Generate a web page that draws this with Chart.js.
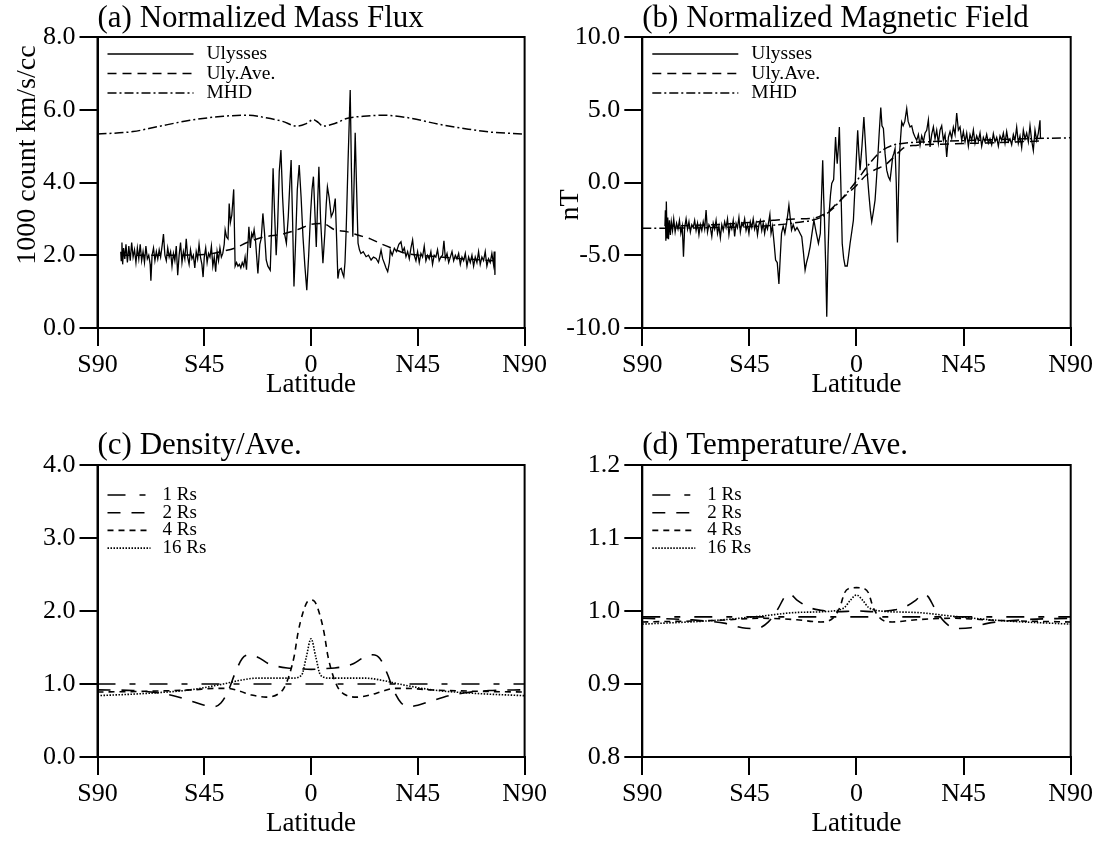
<!DOCTYPE html>
<html>
<head>
<meta charset="utf-8">
<script src="https://cdn.jsdelivr.net/npm/chart.js@4.4.1/dist/chart.umd.min.js"></script>
<style>
  body { margin: 0; background: #fff; }
  #wrap { position: relative; width: 1102px; height: 843px; background: #fff; }
  canvas { position: absolute; }
</style>
</head>
<body>
<div id="wrap">
  <canvas id="panelA" width="551" height="420" style="left:0;top:0"></canvas>
  <canvas id="panelB" width="551" height="420" style="left:551px;top:0"></canvas>
  <canvas id="panelC" width="551" height="423" style="left:0;top:420px"></canvas>
  <canvas id="panelD" width="551" height="423" style="left:551px;top:420px"></canvas>
</div>
<script>
const SERIF = '"Liberation Serif", "DejaVu Serif", serif';

// latitude ticks
const latTicks = [-90, -45, 0, 45, 90];

// (a) mass flux, Ulysses (lat, value)
const fluxUlyLat = [-80.2,-80,-79.7,-79.4,-79,-78.5,-78,-77.4,-76.8,-76.2,-75.6,-75,-74.4,-73.8,-73.2,-72.6,-72,-71.4,-70.8,-70.2,-69.6,-69,-68.4,-67.8,-67.5,-67,-66.4,-65.8,-65.2,-64.6,-64,-63.4,-62.7,-62.2,-61.6,-61,-60.4,-59.8,-59.2,-58.6,-58,-57.4,-56.8,-56.2,-55.6,-55,-54.4,-53.8,-53.2,-52.6,-52,-51.4,-50.8,-50.2,-49.6,-49,-48.4,-47.8,-47.2,-46.6,-46,-45.5,-45,-44.4,-43.8,-43.2,-42.6,-42,-41.4,-40.8,-40.2,-39.6,-39,-38.4,-37.8,-37.2,-36.6,-36.2,-35.6,-35,-34.5,-34,-33.4,-32.6,-32,-31.4,-30.8,-30.2,-29.6,-29,-28.4,-27.8,-27.2,-26.6,-26.2,-25.6,-25,-24.5,-24,-23.4,-22.4,-21.6,-21,-20.3,-19.6,-18.9,-18.2,-17.2,-16.6,-16,-15.4,-14.7,-14.1,-13.4,-12.7,-12,-11.2,-10.4,-9.6,-9,-8.4,-7.8,-7.2,-6.6,-5.8,-5,-4.2,-3.4,-2.6,-1.8,-1,-0.2,0.4,1,1.6,2.2,2.8,3.3,4,5,5.8,6.4,6.9,7.6,8.5,9.4,10.2,10.8,11.3,11.9,12.7,13.3,13.8,14.3,14.8,15.6,16.5,17,17.6,18.1,18.6,19.2,19.8,20.4,21,22,23.2,24.2,25.3,26.3,27.4,28.4,29.5,30.2,30.9,31.6,32.3,33,33.4,34.2,35.1,36,37,37.9,38.6,39.3,40,40.7,41.4,42.1,42.8,43.5,44.2,44.9,45.6,46.3,47,47.7,48.4,49.1,49.8,50.5,51.2,51.9,52.6,53.3,54,54.7,55.4,56,56.6,57.3,58,58.7,59.4,60.1,60.8,61.5,62.2,62.9,63.6,64.3,65,65.7,66.4,67.1,67.8,68.5,69.2,69.9,70.6,71.3,72,72.7,73.4,74.1,74.8,75.5,76.2,76.9,77.2,77.5];
const fluxUlyVal = [2.1,1.85,2.35,1.75,2.2,1.9,2.3,1.8,2.25,1.85,2.35,1.95,2.15,1.8,2.2,1.9,2.3,1.85,2.1,1.8,2.25,1.9,2.0,1.75,1.3,2.0,2.2,1.85,2.1,1.9,2.15,1.95,2.3,2.58,2.0,1.85,2.2,1.95,2.1,1.7,2.05,1.85,2.25,1.45,2.0,2.35,1.8,2.1,1.9,2.45,1.95,1.75,2.15,1.9,2.0,1.65,2.1,1.9,2.3,1.95,1.75,1.4,1.95,2.2,1.8,2.05,1.95,2.25,1.7,1.95,1.55,2.1,1.85,2.2,1.95,2.05,2.3,2.7,2.5,2.45,3.42,2.9,3.1,3.81,1.7,1.8,1.7,1.75,1.65,1.8,1.7,1.95,1.6,2.3,2.78,2.2,2.6,2.5,2.7,2.4,1.5,2.3,2.46,3.15,2.6,1.87,1.7,1.59,2.8,4.39,3.2,2.0,2.8,4.3,4.89,3.6,2.6,2.33,3.06,3.9,4.62,3.0,1.14,2.2,3.8,4.48,3.6,2.5,1.7,1.04,2.0,3.15,3.8,4.16,3.2,2.23,3.5,4.43,3.0,1.78,2.6,3.4,3.88,3.6,3.06,3.2,3.56,2.4,1.36,1.6,1.64,1.5,1.41,1.8,2.69,4.6,6.54,4.4,2.51,3.9,5.37,3.8,2.33,2.15,2.05,2.1,1.96,2.0,1.87,1.95,1.91,1.8,2.14,1.9,1.78,1.65,1.55,1.8,2.14,2.0,2.19,2.1,2.3,2.37,2.1,2.2,1.96,2.1,1.9,2.2,2.42,2.0,1.85,2.1,1.8,2.05,1.95,2.25,1.85,2.0,1.9,2.1,1.75,2.0,1.95,2.15,1.85,1.95,2.0,2.4,1.9,2.05,1.8,1.95,2.1,1.85,2.0,1.9,2.05,1.75,1.95,1.85,2.05,1.7,1.95,1.8,2.0,1.7,1.95,1.8,2.1,1.75,1.95,1.85,2.1,1.7,1.9,1.8,2.05,1.75,2.1,1.46];

// (a) Ulysses running average
const fluxAveLat = [-80,-60,-45,-38,-32,-27,-20,-12,-5,0,5,10,15,20,25,30,35,40,50,60,77];
const fluxAveVal = [2.0,2.0,2.02,2.1,2.2,2.35,2.5,2.58,2.72,2.85,2.87,2.7,2.65,2.55,2.45,2.3,2.17,2.05,1.98,1.92,1.85];

// (a) MHD model
const fluxMhdLat = [-90,-75,-65,-51,-37,-27,-19,-12,-6,-2,1,3,5,10,15,22,30,40,54,65,75,90];
const fluxMhdVal = [5.33,5.4,5.53,5.71,5.82,5.85,5.78,5.68,5.55,5.62,5.73,5.65,5.55,5.62,5.76,5.82,5.85,5.79,5.6,5.48,5.39,5.33];

// (b) magnetic field, Ulysses
const bUlyLat = [-80.5,-80.3,-80.1,-79.9,-79.6,-79.3,-79,-78.6,-78.2,-77.8,-77.3,-76.8,-76.2,-75.6,-75,-74.4,-73.8,-73.2,-72.7,-72.2,-71.6,-71,-70.4,-69.8,-69.2,-68.6,-68,-67.4,-66.8,-66.2,-65.6,-65,-64.4,-63.8,-63.2,-62.6,-62,-61.4,-60.8,-60.2,-59.6,-59,-58.4,-57.8,-57.2,-56.6,-56,-55.4,-54.8,-54.2,-53.6,-53,-52.4,-51.8,-51.2,-50.6,-50,-49.4,-48.8,-48.2,-47.6,-47,-46.4,-45.8,-45.2,-44.6,-44,-43.4,-42.8,-42.2,-41.6,-41,-40.4,-39.8,-39.2,-38.6,-38,-37.4,-36.8,-36.4,-35.9,-35.3,-34.6,-34,-33.3,-32.6,-32,-31.5,-30.8,-30.1,-29.2,-28.4,-27.8,-27.3,-26.6,-25.8,-25,-24.4,-23.7,-23,-22.3,-21.6,-21,-20.2,-19.5,-18.7,-17.9,-17,-16,-15.2,-14.6,-14.2,-13.8,-13.5,-12.9,-12.5,-12,-11.4,-10.9,-10.4,-9.6,-8.8,-8.4,-8.1,-7.6,-7.2,-6.6,-6,-5.4,-4.8,-3.9,-3.3,-2.7,-2,-1.3,-0.4,0.5,1,1.5,2.3,3.1,3.7,4.3,5.2,5.8,6.4,7.1,7.8,8.3,8.8,9.5,10.2,10.7,11.3,12,12.7,13.4,14.1,14.7,15.2,15.7,16.2,16.7,17.2,17.6,18,18.5,19,19.6,20.3,21.1,21.7,22.5,23.2,23.9,24.6,25.3,26,26.7,27.4,28.1,28.8,29.5,30.2,30.9,31.6,32.3,33,33.7,34.4,35.1,35.8,36.5,37.2,37.9,38.6,39.3,40,40.7,41.4,42.1,42.8,43.5,44.2,44.9,45.6,46.3,47,47.7,48.4,49.1,49.8,50.5,51.2,51.9,52.6,53.3,54,54.7,55.4,56.1,56.8,57.5,58.2,58.9,59.6,60.3,61,61.7,62.4,63.1,63.8,64.5,65.2,65.9,66.6,67.3,68,68.7,69.4,70.1,70.8,71.5,72.2,72.9,73.6,74.3,75,75.7,76.4,77.1,77.3];
const bUlyVal = [-3.0,-1.9,-4.0,-1.3,-3.8,-2.4,-3.9,-2.6,-3.6,-2.7,-3.3,-2.5,-3.4,-2.8,-3.2,-2.6,-3.5,-3.0,-5.1,-3.1,-2.5,-3.2,-2.7,-3.4,-2.9,-3.1,-2.6,-3.3,-2.8,-3.6,-2.9,-3.3,-2.7,-3.2,-1.9,-3.4,-2.9,-3.1,-3.7,-2.8,-3.2,-2.6,-3.5,-3.0,-3.8,-2.9,-3.3,-2.7,-3.1,-2.5,-3.6,-2.9,-3.2,-2.6,-3.7,-2.8,-3.1,-2.4,-3.4,-2.8,-3.0,-2.5,-3.3,-2.9,-3.5,-2.7,-3.1,-2.5,-3.2,-2.8,-3.6,-2.9,-2.6,-3.3,-2.8,-3.5,-2.9,-3.2,-2.6,-2.2,-3.5,-3.0,-4.2,-5.33,-5.5,-6.98,-5.0,-3.5,-3.0,-3.5,-2.6,-1.56,-2.5,-3.27,-2.9,-3.3,-3.1,-3.27,-3.5,-3.73,-4.8,-6.02,-5.5,-5.0,-4.42,-3.5,-2.59,-3.4,-4.19,-3.5,-0.5,1.53,-1.0,-2.36,-6.0,-9.22,-5.0,-1.9,-0.8,-0.07,0.2,3.13,2.0,1.3,2.5,3.82,0.0,-4.19,-5.2,-5.74,-5.74,-5.0,-4.19,-3.4,-2.59,0.5,3.59,2.0,0.85,2.5,4.5,2.8,1.08,-0.8,-1.9,-2.7,-2.0,-1.21,0.0,1.3,3.3,5.15,3.9,3.71,2.0,0.85,0.4,0.16,1.0,1.76,2.0,2.33,0.0,-4.12,-1.0,1.8,3.0,4.16,3.9,4.2,5.08,4.2,3.82,3.9,3.4,3.13,2.9,3.3,2.56,3.2,2.8,3.4,3.59,4.3,2.45,3.3,3.82,3.0,3.6,2.7,3.59,3.9,2.9,3.3,1.76,3.1,3.5,3.05,3.8,3.3,4.78,3.6,3.82,2.9,3.5,2.8,3.4,2.5,3.3,2.9,3.6,2.7,3.2,2.85,3.4,2.5,3.1,2.8,3.3,2.7,3.0,2.6,3.35,2.8,3.1,2.5,3.2,2.9,3.4,2.7,3.5,2.8,3.0,2.6,3.3,2.9,3.8,2.7,3.2,2.4,3.6,3.0,3.4,2.8,3.9,2.9,2.2,3.6,2.9,3.4,4.28,3.0];

// (b) Ulysses running average
const bAveLat = [-80,-60,-45,-35,-25,-18,-12,-8,-4,0,4,8,12,16,20,25,40,60,77];
const bAveVal = [-3.0,-2.9,-2.75,-2.6,-2.5,-2.45,-2.0,-1.4,-0.8,-0.2,0.5,0.9,1.2,1.8,2.4,2.55,2.65,2.75,2.85];

// (b) MHD model
const bMhdLat = [-90,-60,-40,-25,-15,-10,-5,0,5,10,15,20,30,50,70,90];
const bMhdVal = [-3.15,-3.1,-3.0,-2.75,-2.4,-1.8,-0.9,0.1,1.2,2.1,2.55,2.7,2.8,2.9,3.0,3.07];

// (c) density / average
const dens1Lat = [-90,-45,0,45,90];
const dens1Val = [1.0,1.0,1.0,1.0,1.0];
const dens2Lat = [-90,-75,-65,-58,-50,-45,-41,-38,-35,-32,-29,-26,-22,-18,-14,-10,-5,0,5,10,14,18,22,26,29,32,35,38,41,45,50,58,65,75,90];
const dens2Val = [0.92,0.91,0.88,0.84,0.76,0.71,0.69,0.74,0.9,1.15,1.35,1.4,1.36,1.28,1.24,1.22,1.21,1.2,1.21,1.22,1.24,1.28,1.36,1.4,1.35,1.15,0.9,0.74,0.69,0.71,0.76,0.84,0.88,0.91,0.92];
const dens4Lat = [-90,-70,-50,-40,-35,-30,-25,-19,-14,-11.5,-9,-7,-5.5,-3.5,-1.5,0,1.5,3.5,5.5,7,9,11.5,14,19,25,30,35,40,50,70,90];
const dens4Val = [0.89,0.9,0.92,0.94,0.94,0.9,0.85,0.82,0.86,0.94,1.14,1.4,1.7,1.97,2.13,2.15,2.13,1.97,1.7,1.4,1.14,0.94,0.86,0.82,0.85,0.9,0.94,0.94,0.92,0.9,0.89];
const dens16Lat = [-90,-70,-51,-37,-30,-23,-15,-8,-4,-2,0,2,4,8,15,23,30,37,51,70,90];
const dens16Val = [0.84,0.87,0.92,1.0,1.05,1.08,1.08,1.08,1.12,1.37,1.62,1.37,1.12,1.08,1.08,1.08,1.05,1.0,0.92,0.87,0.84];

// (d) temperature / average
const temp1Lat = [-90,-45,0,45,90];
const temp1Val = [0.992,0.992,0.992,0.992,0.992];
const temp2Lat = [-90,-70,-55,-48,-42,-37,-33,-30,-28,-25,-20,-15,-8,0,8,15,20,25,28,30,33,37,42,48,55,70,90];
const temp2Val = [0.99,0.988,0.983,0.977,0.976,0.985,1.003,1.02,1.023,1.015,1.005,1.001,0.999,1.0,0.999,1.001,1.005,1.015,1.023,1.02,1.003,0.985,0.976,0.977,0.983,0.988,0.99];
const temp4Lat = [-90,-60,-40,-25,-15,-10,-7,-5,-3,0,3,5,7,10,15,25,40,60,90];
const temp4Val = [0.985,0.987,0.99,0.988,0.985,0.99,1.005,1.025,1.031,1.032,1.031,1.025,1.005,0.99,0.985,0.988,0.99,0.987,0.985];
const temp16Lat = [-90,-60,-40,-25,-10,-5,-2.5,0,2.5,5,10,25,40,60,90];
const temp16Val = [0.982,0.987,0.993,0.998,1.0,1.005,1.015,1.022,1.015,1.005,1.0,0.998,0.993,0.987,0.982];

const pts = (xs, ys) => xs.map((x, i) => ({ x: x, y: ys[i] }));

function latLabel(v) {
  if (v < 0) return 'S' + (-v);
  if (v > 0) return 'N' + v;
  return '0';
}

// box around the plot area
const frame = {
  id: 'frame',
  afterDraw(chart) {
    const { ctx, chartArea: a } = chart;
    ctx.save();
    ctx.strokeStyle = '#000';
    ctx.lineWidth = 2;
    ctx.strokeRect(a.left, a.top, a.right - a.left, a.bottom - a.top);
    ctx.restore();
  }
};

// vertical axis title, placed by hand like the original
const sideTitle = {
  id: 'sideTitle',
  afterDraw(chart, args, opts) {
    if (!opts.text) return;
    const ctx = chart.ctx;
    ctx.save();
    ctx.translate(opts.x, opts.y);
    ctx.rotate(-Math.PI / 2);
    ctx.font = opts.size + 'px ' + SERIF;
    ctx.fillStyle = '#000';
    ctx.textAlign = 'center';
    ctx.textBaseline = 'middle';
    ctx.fillText(opts.text, 0, 0);
    ctx.restore();
  }
};

// legend inside the plot, line sample then label
const lineLegend = {
  id: 'lineLegend',
  afterDatasetsDraw(chart, args, opts) {
    const { ctx, chartArea: a } = chart;
    ctx.save();
    ctx.font = opts.size + 'px ' + SERIF;
    ctx.textBaseline = 'middle';
    ctx.fillStyle = '#000';
    ctx.strokeStyle = '#000';
    chart.data.datasets.forEach((ds, i) => {
      const x = a.left + opts.left;
      const y = a.top + opts.top + i * opts.row;
      ctx.lineWidth = ds.borderWidth;
      ctx.setLineDash(ds.borderDash || []);
      ctx.beginPath();
      ctx.moveTo(x, y);
      ctx.lineTo(x + opts.len, y);
      ctx.stroke();
      ctx.setLineDash([]);
      ctx.fillText(ds.label, x + opts.len + opts.gap, y);
    });
    ctx.restore();
  }
};

function line(label, data, dash, width, smooth) {
  return {
    label: label,
    data: data,
    borderColor: '#000',
    borderWidth: width,
    borderDash: dash,
    pointRadius: 0,
    fill: false,
    tension: smooth ? 0.4 : 0,
    cubicInterpolationMode: smooth ? 'monotone' : 'default'
  };
}

function makePanel(id, p) {
  const axisGrid = { drawOnChartArea: false, drawTicks: true, tickLength: 18, color: '#000', lineWidth: 2 };
  const axisBorder = { display: true, color: '#000', width: 2 };
  return new Chart(document.getElementById(id), {
    type: 'line',
    data: { datasets: p.datasets },
    options: {
      animation: false,
      responsive: false,
      devicePixelRatio: 1,
      layout: { padding: p.padding },
      scales: {
        x: {
          type: 'linear',
          min: -90,
          max: 90,
          afterBuildTicks: (s) => { s.ticks = latTicks.map(v => ({ value: v })); },
          afterFit: (s) => { s.height = p.xHeight; },
          ticks: { callback: latLabel, color: '#000', padding: 4, maxRotation: 0,
                   font: { family: SERIF, size: 26 } },
          grid: axisGrid,
          border: axisBorder,
          title: { display: true, text: 'Latitude', color: '#000',
                   font: { family: SERIF, size: 27 }, padding: { top: 0, bottom: p.latPad } }
        },
        y: {
          min: p.yMin,
          max: p.yMax,
          afterFit: (s) => { s.width = p.yWidth; },
          ticks: { stepSize: p.yStep, callback: (v) => v.toFixed(1), color: '#000', padding: 4,
                   font: { family: SERIF, size: 26 } },
          grid: axisGrid,
          border: axisBorder
        }
      },
      plugins: {
        legend: { display: false },
        tooltip: { enabled: false },
        title: {
          display: true, text: p.title, align: 'start', fullSize: false, color: '#000',
          font: { family: SERIF, size: 31, weight: 'normal' },
          padding: p.titlePad
        },
        sideTitle: p.side,
        lineLegend: p.legend
      }
    },
    plugins: [frame, sideTitle, lineLegend]
  });
}

makePanel('panelA', {
  title: '(a) Normalized Mass Flux',
  titlePad: { top: 0, bottom: -0.2 },
  padding: { left: 0, right: 25.3, top: 0, bottom: 15 },
  yWidth: 97.5, xHeight: 77, latPad: 4,
  yMin: 0, yMax: 8, yStep: 2,
  side: { text: '1000 count km/s/cc', x: 28, y: 155, size: 28 },
  legend: { left: 10, top: 17, row: 19.5, len: 86, gap: 13, size: 19.5 },
  datasets: [
    line('Ulysses', pts(fluxUlyLat, fluxUlyVal), [], 1.3, false),
    line('Uly.Ave.', pts(fluxAveLat, fluxAveVal), [9, 6], 1.5, true),
    line('MHD', pts(fluxMhdLat, fluxMhdVal), [9, 3, 2, 3], 1.5, true)
  ]
});

makePanel('panelB', {
  title: '(b) Normalized Magnetic Field',
  titlePad: { top: 0, bottom: -0.2 },
  padding: { left: 0, right: 31.3, top: 0, bottom: 15 },
  yWidth: 91.3, xHeight: 77, latPad: 4,
  yMin: -10, yMax: 10, yStep: 5,
  side: { text: 'nT', x: 20, y: 205, size: 28 },
  legend: { left: 10, top: 17, row: 19.5, len: 86, gap: 13, size: 19.5 },
  datasets: [
    line('Ulysses', pts(bUlyLat, bUlyVal), [], 1.3, false),
    line('Uly.Ave.', pts(bAveLat, bAveVal), [9, 6], 1.5, true),
    line('MHD', pts(bMhdLat, bMhdVal), [9, 3, 2, 3], 1.5, true)
  ]
});

makePanel('panelC', {
  title: '(c) Density/Ave.',
  titlePad: { top: 7.4, bottom: 0.4 },
  padding: { left: 0, right: 25.3, top: 0, bottom: 0 },
  yWidth: 97.5, xHeight: 86, latPad: 3,
  yMin: 0, yMax: 4, yStep: 1,
  side: { text: '' },
  legend: { left: 10, top: 30, row: 17.7, len: 43, gap: 12, size: 19 },
  datasets: [
    line('1 Rs', pts(dens1Lat, dens1Val), [18, 14, 6, 14], 1.6, true),
    line('2 Rs', pts(dens2Lat, dens2Val), [13, 11], 1.6, true),
    line('4 Rs', pts(dens4Lat, dens4Val), [6, 5], 1.6, true),
    line('16 Rs', pts(dens16Lat, dens16Val), [1.5, 1.5], 1.6, true)
  ]
});

makePanel('panelD', {
  title: '(d) Temperature/Ave.',
  titlePad: { top: 7.4, bottom: 0.4 },
  padding: { left: 0, right: 31.3, top: 0, bottom: 0 },
  yWidth: 91.3, xHeight: 86, latPad: 3,
  yMin: 0.8, yMax: 1.2, yStep: 0.1,
  side: { text: '' },
  legend: { left: 10, top: 30, row: 17.7, len: 43, gap: 12, size: 19 },
  datasets: [
    line('1 Rs', pts(temp1Lat, temp1Val), [18, 14, 6, 14], 1.6, true),
    line('2 Rs', pts(temp2Lat, temp2Val), [13, 11], 1.6, true),
    line('4 Rs', pts(temp4Lat, temp4Val), [6, 5], 1.6, true),
    line('16 Rs', pts(temp16Lat, temp16Val), [1.5, 1.5], 1.6, true)
  ]
});
</script>
</body>
</html>
